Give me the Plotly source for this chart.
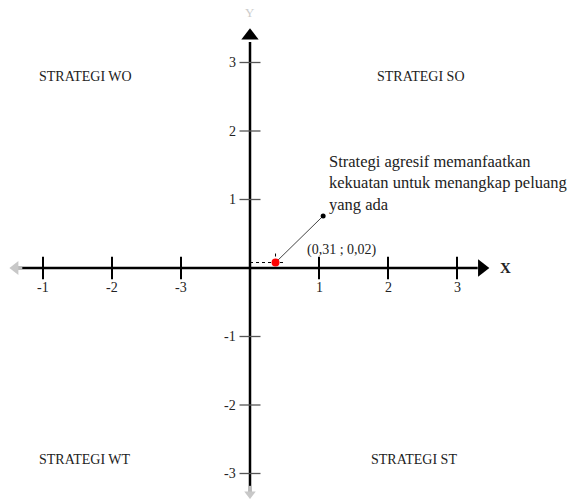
import plotly.graph_objects as go

# ---- data ----
x_tick_vals = [-3, -2, -1, 1, 2, 3]
x_tick_text = ["-1", "-2", "-3", "1", "2", "3"]
y_tick_vals = [-3, -2, -1, 1, 2, 3]
y_tick_text = ["-3", "-2", "-1", "1", "2", "3"]
point_x = [0.31]
point_y = [0.02]
point_label = "(0,31 ; 0,02)"
quad_labels = ["STRATEGI WO", "STRATEGI SO", "STRATEGI WT", "STRATEGI ST"]
quad_x = [-2.39, 2.48, -2.39, 2.38]
quad_y = [2.80, 2.80, -2.80, -2.80]
note_text = "Strategi agresif memanfaatkan<br>kekuatan untuk menangkap peluang<br>yang ada"
note_anchor = [1.06, 0.76]

W, H = 573, 499
ox, oy, ux, uy = 250, 268, 69.0, 68.5
xr = [(0 - ox) / ux, (W - ox) / ux]
yr = [-(H - oy) / uy, oy / uy]

SERIF = "Liberation Serif"

fig = go.Figure()

# axes lines
fig.add_trace(go.Scatter(x=[-3.45, 3.3], y=[0, 0], mode="lines",
                         line=dict(color="black", width=2.5), hoverinfo="skip"))
fig.add_trace(go.Scatter(x=[0, 0], y=[-3.3, 3.3], mode="lines",
                         line=dict(color="black", width=2.5), hoverinfo="skip"))
# faded arrow ends
fig.add_trace(go.Scatter(x=[-3.45, -3.3], y=[0, 0], mode="lines",
                         line=dict(color="#bbbbbb", width=2.5), hoverinfo="skip"))
fig.add_trace(go.Scatter(x=[0, 0], y=[-3.33, -3.18], mode="lines",
                         line=dict(color="#bbbbbb", width=2.5), hoverinfo="skip"))
# arrow heads
fig.add_trace(go.Scatter(x=[3.36], y=[0], mode="markers",
                         marker=dict(symbol="triangle-right", size=15, color="black"),
                         hoverinfo="skip"))
fig.add_trace(go.Scatter(x=[0], y=[3.39], mode="markers",
                         marker=dict(symbol="triangle-up", size=15, color="black"),
                         hoverinfo="skip"))
fig.add_trace(go.Scatter(x=[-3.4], y=[0], mode="markers",
                         marker=dict(symbol="triangle-left", size=12, color="#c8c8c8"),
                         hoverinfo="skip"))
fig.add_trace(go.Scatter(x=[0], y=[-3.3], mode="markers",
                         marker=dict(symbol="triangle-down", size=10, color="#c8c8c8"),
                         hoverinfo="skip"))

# ticks
fig.add_trace(go.Scatter(x=x_tick_vals, y=[0] * len(x_tick_vals), mode="markers",
                         marker=dict(symbol="line-ns", size=16,
                                     line=dict(color="black", width=2)),
                         hoverinfo="skip"))
fig.add_trace(go.Scatter(x=[0] * len(y_tick_vals), y=y_tick_vals, mode="markers",
                         marker=dict(symbol="line-ew", size=15,
                                     line=dict(color="#555555", width=1.3)),
                         hoverinfo="skip"))

# dotted guide lines
fig.add_trace(go.Scatter(x=[0, 0.5], y=[point_y[0] + 0.06, point_y[0] + 0.06], mode="lines",
                         line=dict(color="black", width=1, dash="dot"), hoverinfo="skip"))
fig.add_trace(go.Scatter(x=[point_x[0] + 0.06, point_x[0] + 0.06], y=[0.08, 0.25], mode="lines",
                         line=dict(color="black", width=1, dash="dot"), hoverinfo="skip"))
# leader line
fig.add_trace(go.Scatter(x=[point_x[0] + 0.06, note_anchor[0]], y=[point_y[0] + 0.06, note_anchor[1]],
                         mode="lines", line=dict(color="#444444", width=1), hoverinfo="skip"))
fig.add_trace(go.Scatter(x=[note_anchor[0]], y=[note_anchor[1]], mode="markers",
                         marker=dict(color="black", size=5), hoverinfo="skip"))
# red point
fig.add_trace(go.Scatter(x=[point_x[0] + 0.06], y=[point_y[0] + 0.06], mode="markers",
                         marker=dict(color="red", size=8), hoverinfo="skip"))

ann = []
for v, t in zip(x_tick_vals, x_tick_text):
    ann.append(dict(x=v, y=-0.28, text=t, showarrow=False, xanchor="center", yanchor="middle",
                    font=dict(family=SERIF, size=14, color="#222222")))
for v, t in zip(y_tick_vals, y_tick_text):
    ann.append(dict(x=-0.17, y=v, text=t, showarrow=False, xanchor="right", yanchor="middle",
                    font=dict(family=SERIF, size=14, color="#222222")))
for t, qx, qy in zip(quad_labels, quad_x, quad_y):
    ann.append(dict(x=qx, y=qy, text=t, showarrow=False, xanchor="center", yanchor="middle",
                    font=dict(family=SERIF, size=14, color="#222222")))
ann.append(dict(x=1.33, y=0.26, text=point_label, showarrow=False, xanchor="center",
                yanchor="middle", font=dict(family=SERIF, size=14, color="#222222")))
ann.append(dict(x=1.12, y=1.73, text=note_text, showarrow=False, xanchor="left",
                yanchor="top", align="left",
                font=dict(family=SERIF, size=16.5, color="#222222")))
ann.append(dict(x=3.7, y=0, text="<b>X</b>", showarrow=False, xanchor="center", yanchor="middle",
                font=dict(family=SERIF, size=15, color="#222222")))
ann.append(dict(x=0, y=3.73, text="Y", showarrow=False, xanchor="center", yanchor="middle",
                font=dict(family=SERIF, size=13, color="#cccccc")))

fig.update_layout(
    width=W, height=H, margin=dict(l=0, r=0, t=0, b=0),
    paper_bgcolor="white", plot_bgcolor="white", showlegend=False,
    xaxis=dict(range=xr, visible=False, fixedrange=True),
    yaxis=dict(range=yr, visible=False, fixedrange=True),
    annotations=ann,
)

fig.write_html("out.html", config={"displayModeBar": False},
               post_script="document.body.style.margin='0px';document.body.style.overflow='hidden';")
